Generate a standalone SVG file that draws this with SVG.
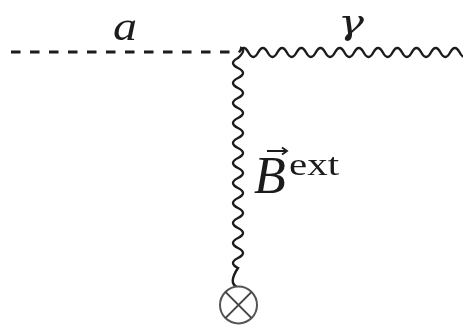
<svg xmlns="http://www.w3.org/2000/svg" width="463" height="325" viewBox="0 0 463 325">
<style>
.line{fill:none;stroke:#1a1a1a}
.math{font-family:"Liberation Serif",serif;fill:#1a1a1a}
.it{font-style:italic}
</style>
<defs><filter id="soft" x="-5%" y="-5%" width="110%" height="110%"><feGaussianBlur stdDeviation="0.55"/></filter></defs>
<rect width="463" height="325" fill="#fff"/>
<g filter="url(#soft)">
<g id="connectors">
<path id="axion" class="line" stroke-width="2.8" stroke-dasharray="9.5 9.5" d="M11,52H233"/>
<path id="photon" class="line" stroke-width="2.4" d="M239,52.5Q243.7,43.5 248.5,52.5t9.6,0t9.6,0t9.6,0t9.6,0t9.6,0t9.6,0t9.6,0t9.6,0t9.6,0t9.6,0t9.6,0t9.6,0t9.6,0t9.6,0t9.6,0t9.6,0t9.6,0t9.6,0t9.6,0t9.6,0t9.6,0t9.6,0t9.6,0"/>
<path id="field" class="line" stroke-width="2.4" d="M240,47.5Q247,50 238,58Q228,63 238,68t0,10t0,10t0,10t0,10t0,10t0,10t0,10t0,10t0,10t0,10t0,10t0,10t0,10t0,10t0,10t0,10t0,10t0,10t0,10t0,10Q228,283 237,287"/>
</g>
<g id="source">
<circle cx="238.5" cy="305" r="18.5" fill="#fff" stroke="#555" stroke-width="2"/>
<path d="M225.4,291.9L251.6,318.1M251.6,291.9L225.4,318.1" fill="none" stroke="#444" stroke-width="2"/>
</g>
<g id="label-a"><text class="math it" x="113" y="40" font-size="42" textLength="24" lengthAdjust="spacingAndGlyphs">a</text></g>
<g id="label-gamma"><text class="math it" x="338" y="34" font-size="36" textLength="26" lengthAdjust="spacingAndGlyphs" style="font-family:'DejaVu Serif',serif">γ</text></g>
<g id="label-B">
<path class="line" stroke-width="1.8" d="M267,151H286M282,147.5L287,151L282,154.5"/>
<text class="math it" x="254" y="193" font-size="52">B</text>
<text class="math" x="289" y="175" font-size="32" textLength="50" lengthAdjust="spacingAndGlyphs">ext</text>
</g>
</g>
</svg>
